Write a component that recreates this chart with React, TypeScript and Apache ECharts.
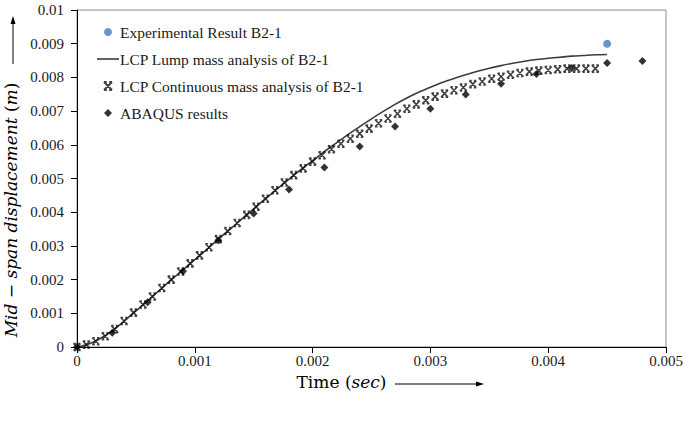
import React, { useEffect, useRef } from "react";
import * as echarts from "echarts";

// ---- data ----
const expTime = [0.0045];
const expDisp = [0.009];

const lumpTime = [
  0, 0.0001, 0.0002, 0.0003, 0.0004, 0.0005, 0.0006, 0.0007, 0.0008, 0.0009,
  0.001, 0.0011, 0.0012, 0.0013, 0.0014, 0.0015, 0.0016, 0.0017, 0.0018, 0.0019,
  0.002, 0.0021, 0.0022, 0.0023, 0.0024, 0.0025, 0.0026, 0.0027, 0.0028, 0.0029,
  0.003, 0.0031, 0.0032, 0.0033, 0.0034, 0.0035, 0.0036, 0.0037, 0.0038, 0.0039,
  0.004, 0.0041, 0.0042, 0.0043, 0.0044, 0.0045,
];
const lumpDisp = [
  0, 0.00009, 0.00026, 0.00048, 0.00077, 0.00107, 0.00137, 0.00168, 0.00199, 0.00229,
  0.00259, 0.00289, 0.0032, 0.0035, 0.0038, 0.0041, 0.0044, 0.00469, 0.00498, 0.00526,
  0.00553, 0.0058, 0.00605, 0.0063, 0.00654, 0.00677, 0.00699, 0.0072, 0.00739, 0.00756,
  0.00771, 0.00785, 0.00797, 0.00808, 0.00818, 0.00827, 0.00835, 0.00842, 0.00848, 0.00853,
  0.00857, 0.0086, 0.00863, 0.00865, 0.00867, 0.00868,
];

const contTime = [
  0, 0.00008, 0.00016, 0.00024, 0.00032, 0.0004, 0.00048, 0.00056, 0.00064, 0.00072,
  0.0008, 0.00088, 0.00096, 0.00104, 0.00112, 0.0012, 0.00128, 0.00136, 0.00144, 0.00152,
  0.0016, 0.00168, 0.00176, 0.00184, 0.00192, 0.002, 0.00208, 0.00216, 0.00224, 0.00232,
  0.0024, 0.00248, 0.00256, 0.00264, 0.00272, 0.0028, 0.00288, 0.00296, 0.00304, 0.00312,
  0.0032, 0.00328, 0.00336, 0.00344, 0.00352, 0.0036, 0.00368, 0.00376, 0.00384, 0.00392,
  0.004, 0.00408, 0.00416, 0.00424, 0.00432, 0.0044,
];
const contDisp = [
  0, 0.00007, 0.00017, 0.00032, 0.00053, 0.00077, 0.00102, 0.00126, 0.0015, 0.00175,
  0.002, 0.00224, 0.00248, 0.00272, 0.00296, 0.0032, 0.00344, 0.00368, 0.00392, 0.00416,
  0.0044, 0.00465, 0.00488, 0.0051, 0.0053, 0.0055, 0.00569, 0.00587, 0.00603, 0.00618,
  0.00633, 0.00648, 0.00664, 0.00678, 0.00692, 0.00707, 0.0072, 0.00732, 0.00743, 0.00752,
  0.00762, 0.0077, 0.0078, 0.00788, 0.00796, 0.00802, 0.00808, 0.00813, 0.00817, 0.0082,
  0.00822, 0.00824, 0.00826, 0.00826, 0.00826, 0.00826,
];

const abqTime = [
  0, 0.0003, 0.0006, 0.0009, 0.0012, 0.0015, 0.0018, 0.0021, 0.0024, 0.0027,
  0.003, 0.0033, 0.0036, 0.0039, 0.0042, 0.0045, 0.0048,
];
const abqDisp = [
  0, 0.00042, 0.00133, 0.00225, 0.00317, 0.00396, 0.00467, 0.00533, 0.00595, 0.00654,
  0.00707, 0.00749, 0.00781, 0.0081, 0.00828, 0.00843, 0.00849,
];

const seriesNames = [
  "Experimental Result B2-1",
  "LCP Lump mass analysis of B2-1",
  "LCP Continuous mass analysis of B2-1",
  "ABAQUS results",
];

const xAxisMin = 0;
const xAxisMax = 0.005;
const xAxisStep = 0.001;
const yAxisMin = 0;
const yAxisMax = 0.01;
const yAxisStep = 0.001;

const pairs = (xs: number[], ys: number[]) => xs.map((x, i) => [x, ys[i]]);

const SERIF = "'Liberation Serif', 'Times New Roman', serif";
const MATH = "'DejaVu Serif', serif";
const CROSS =
  "path://M0,0L10,10M10,0L0,10M0,0L3.5,0M6.5,0L10,0M0,10L3.5,10M6.5,10L10,10";
const DIAMOND = "path://M5,0L10,5L5,10L0,5Z";
const LINE_ICON = "path://M0,0L22,0L22,1.6L0,1.6Z";

export default function App() {
  const ref = useRef<HTMLDivElement | null>(null);

  useEffect(() => {
    document.body.style.margin = "0";
    if (!ref.current) return;
    const chart = echarts.init(ref.current, undefined, { renderer: "svg" });
    const fmt = (v: number) => String(parseFloat(v.toFixed(4)));
    chart.setOption({
      animation: false,
      backgroundColor: "#ffffff",
      textStyle: { fontFamily: SERIF },
      grid: {
        left: 77,
        right: 19,
        top: 10,
        bottom: 93,
        show: true,
        borderColor: "#8c8c8c",
        borderWidth: 1,
        backgroundColor: "transparent",
        containLabel: false,
        outerBoundsMode: "none",
      },
      legend: {
        orient: "vertical",
        left: 97,
        top: 24,
        padding: 0,
        itemWidth: 22,
        itemHeight: 8,
        itemGap: 11,
        symbolKeepAspect: true,
        data: [
          { name: seriesNames[0] },
          { name: seriesNames[1], icon: LINE_ICON },
          { name: seriesNames[2] },
          { name: seriesNames[3], icon: DIAMOND },
        ],
        textStyle: {
          fontFamily: SERIF,
          fontSize: 15.5,
          color: "#1a1a1a",
          lineHeight: 16,
          padding: [0, 0, 0, -4],
        },
      },
      xAxis: {
        type: "value",
        min: xAxisMin,
        max: xAxisMax,
        interval: xAxisStep,
        splitLine: { show: false },
        axisLine: { show: true, onZero: false, lineStyle: { color: "#000", width: 1 } },
        axisTick: { show: true, length: 6, lineStyle: { color: "#000" } },
        axisLabel: {
          fontFamily: SERIF,
          fontSize: 15,
          color: "#1a1a1a",
          margin: 6,
          formatter: fmt,
        },
        name: "{a|Time (}{b|sec}{a|)}",
        nameLocation: "middle",
        nameGap: 26,
        nameTextStyle: {
          padding: [0, 60, 0, 0],
          rich: {
            a: { fontFamily: MATH, fontSize: 17, color: "#000" },
            b: { fontFamily: MATH, fontSize: 17, fontStyle: "italic", color: "#000" },
          },
        },
      },
      yAxis: {
        type: "value",
        min: yAxisMin,
        max: yAxisMax,
        interval: yAxisStep,
        splitLine: { show: false },
        axisLine: { show: true, onZero: false, lineStyle: { color: "#000", width: 1 } },
        axisTick: { show: true, length: 6, lineStyle: { color: "#000" } },
        axisLabel: {
          fontFamily: SERIF,
          fontSize: 15,
          color: "#1a1a1a",
          margin: 13,
          formatter: fmt,
        },
        name: "{b|Mid}{a| − }{b|span displacement}{a| (}{b|m}{a|)}",
        nameLocation: "middle",
        nameRotate: 90,
        nameGap: 54,
        nameTextStyle: {
          padding: [0, 63, 0, 0],
          rich: {
            a: { fontFamily: MATH, fontSize: 17, color: "#000" },
            b: { fontFamily: MATH, fontSize: 17, fontStyle: "italic", color: "#000" },
          },
        },
      },
      series: [
        {
          name: seriesNames[0],
          type: "scatter",
          data: pairs(expTime, expDisp),
          symbol: "circle",
          symbolSize: 8,
          itemStyle: { color: "#3f7dc0" },
          z: 2,
        },
        {
          name: seriesNames[1],
          type: "line",
          data: pairs(lumpTime, lumpDisp),
          symbol: "none",
          smooth: 0.3,
          lineStyle: { color: "#3c3c3c", width: 1.6 },
          itemStyle: { color: "#3c3c3c" },
          z: 3,
        },
        {
          name: seriesNames[2],
          type: "scatter",
          data: pairs(contTime, contDisp),
          symbol: CROSS,
          symbolSize: 7,
          itemStyle: { color: "rgba(0,0,0,0)", borderColor: "#111", borderWidth: 1.6 },
          z: 4,
        },
        {
          name: seriesNames[3],
          type: "scatter",
          data: pairs(abqTime, abqDisp),
          symbol: "diamond",
          symbolSize: 8,
          itemStyle: { color: "#000" },
          z: 5,
        },
      ],
      graphic: [
        {
          type: "line",
          shape: { x1: 13, y1: 64, x2: 13, y2: 22 },
          style: { stroke: "#000", lineWidth: 1 },
        },
        {
          type: "polygon",
          shape: { points: [[13, 16], [10.5, 24], [15.5, 24]] },
          style: { fill: "#000" },
        },
        {
          type: "line",
          shape: { x1: 395, y1: 384, x2: 478, y2: 384 },
          style: { stroke: "#000", lineWidth: 1 },
        },
        {
          type: "polygon",
          shape: { points: [[484, 384], [476, 381.5], [476, 386.5]] },
          style: { fill: "#000" },
        },
      ],
    });
    return () => {
      chart.dispose();
    };
  }, []);

  return <div ref={ref} style={{ width: 685, height: 440 }} />;
}
